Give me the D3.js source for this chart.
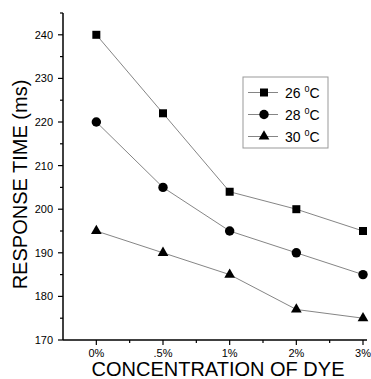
<!DOCTYPE html>
<html>
<head>
<meta charset="utf-8">
<script src="https://cdn.jsdelivr.net/npm/d3@7"></script>
<style>
  body { margin: 0; background: #fff; }
  text { font-family: Arial, "Liberation Sans", sans-serif; fill: #000; }
</style>
</head>
<body>
<div id="chart"></div>
<script>
// data
const concentrations = ['0%', '.5%', '1%', '2%', '3%'];
const temps = ['26', '28', '30'];
const resp26 = [240, 222, 204, 200, 195];
const resp28 = [220, 205, 195, 190, 185];
const resp30 = [195, 190, 185, 177, 175];
const yTicks = [170, 180, 190, 200, 210, 220, 230, 240];

const series = [
	{ name: temps[0], values: resp26, symbol: d3.symbolSquare, size: 64 },
	{ name: temps[1], values: resp28, symbol: d3.symbolCircle, size: 70 },
	{ name: temps[2], values: resp30, symbol: d3.symbolTriangle, size: 50 }
];

let width = 371, height = 379;
let mLeft = 63, mRight = 367, mTop = 13, mBottom = 340;

let svg = d3.select('#chart').append('svg')
	.attr('width', width)
	.attr('height', height);

let x = d3.scaleLinear().domain([-0.5, 4.06]).range([mLeft, mRight]);
let y = d3.scaleLinear().domain([170, 245]).range([mBottom, mTop]);

// y axis: major ticks with labels, minor in between
let yAxis = svg.append('g').attr('transform', `translate(${mLeft},0)`);
yAxis.append('line').attr('y1', y(170)).attr('y2', y(245)).attr('stroke', '#000').attr('stroke-width', 1.5);
yAxis.selectAll('.minor').data(d3.range(175, 246, 10)).enter().append('line')
	.attr('x1', -3).attr('x2', 0).attr('y1', d => y(d)).attr('y2', d => y(d))
	.attr('stroke', '#000').attr('stroke-width', 1.2);
yAxis.selectAll('.major').data(yTicks).enter().append('line')
	.attr('x1', -5).attr('x2', 0).attr('y1', d => y(d)).attr('y2', d => y(d))
	.attr('stroke', '#000').attr('stroke-width', 1.2);
yAxis.selectAll('.lab').data(yTicks).enter().append('text')
	.attr('x', -10).attr('y', d => y(d) + 4)
	.attr('text-anchor', 'end').attr('font-size', 11)
	.text(d => d);

// x axis
let xAxis = svg.append('g').attr('transform', `translate(0,${mBottom})`);
xAxis.append('line').attr('x1', mLeft).attr('x2', mRight).attr('stroke', '#000').attr('stroke-width', 1.5);
xAxis.selectAll('.minor').data(d3.range(0.5, 4, 1)).enter().append('line')
	.attr('x1', d => x(d)).attr('x2', d => x(d)).attr('y1', 0).attr('y2', 3)
	.attr('stroke', '#000').attr('stroke-width', 1.2);
xAxis.selectAll('.major').data(concentrations).enter().append('line')
	.attr('x1', (d, i) => x(i)).attr('x2', (d, i) => x(i)).attr('y1', 0).attr('y2', 5)
	.attr('stroke', '#000').attr('stroke-width', 1.2);
xAxis.selectAll('.lab').data(concentrations).enter().append('text')
	.attr('x', (d, i) => x(i)).attr('y', 17)
	.attr('text-anchor', 'middle').attr('font-size', 11)
	.text(d => d);

// titles
svg.append('text')
	.attr('transform', `translate(27,${(mTop + mBottom) / 2 + 8}) rotate(-90)`)
	.attr('text-anchor', 'middle').attr('font-size', 20)
	.text('RESPONSE TIME (ms)');
svg.append('text')
	.attr('x', 218).attr('y', 376)
	.attr('text-anchor', 'middle').attr('font-size', 20)
	.text('CONCENTRATION OF DYE');

// lines + markers
let line = d3.line().x((d, i) => x(i)).y(d => y(d));
for (const s of series) {
	svg.append('path')
		.attr('d', line(s.values))
		.attr('fill', 'none').attr('stroke', '#777').attr('stroke-width', 0.9);
	svg.selectAll(null).data(s.values).enter().append('path')
		.attr('d', d3.symbol().type(s.symbol).size(s.size))
		.attr('transform', (d, i) => `translate(${x(i)},${y(d)})`)
		.attr('fill', '#000');
}

// legend
let legend = svg.append('g').attr('transform', 'translate(243,77)');
legend.append('rect').attr('width', 85).attr('height', 71)
	.attr('fill', '#fff').attr('stroke', '#999').attr('stroke-width', 1);
let rows = legend.selectAll('.row').data(series).enter().append('g')
	.attr('transform', (d, i) => `translate(0,${15.5 + i * 22})`);
rows.append('line').attr('x1', 5).attr('x2', 35).attr('stroke', '#777').attr('stroke-width', 0.9);
rows.append('path')
	.attr('d', d => d3.symbol().type(d.symbol).size(d.size)())
	.attr('transform', 'translate(21,0)').attr('fill', '#000');
let lt = rows.append('text').attr('x', 42).attr('y', 5).attr('font-size', 14);
lt.append('tspan').text(d => d.name + ' ');
lt.append('tspan').attr('dy', -6).attr('font-size', 9).text('0');
lt.append('tspan').attr('dy', 6).text('C');
</script>
</body>
</html>
